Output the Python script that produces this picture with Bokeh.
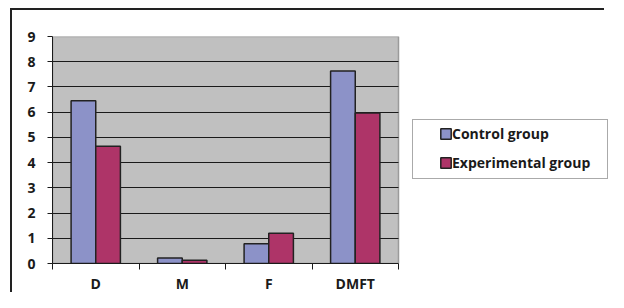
from bokeh.plotting import figure
from bokeh.models import (Range1d, FixedTicker, Legend, LegendItem, ColumnDataSource, CDSView, IndexFilter, Grid)
from bokeh.transform import dodge
from bokeh.embed import file_html
from bokeh.resources import INLINE

categories = ["D", "M", "F", "DMFT"]
control = [6.45, 0.22, 0.78, 7.63]
experimental = [4.65, 0.13, 1.2, 5.97]
series_names = ["Control group", "Experimental group"]
y_ticks = [0, 1, 2, 3, 4, 5, 6, 7, 8, 9]

FONT = "Open Sans"
FS = "14px"
C_CTRL = "#8C92C8"
C_EXP = "#AE3468"
C_AREA = "#C0C0C0"
INK = "#1a1a1a"

# layout (pixels): whole figure 608 x 292
PLOT_W, FRAME_W, FRAME_H = 346, 556, 227

n = len(categories)
xpos = [i + 0.5 for i in range(n)]
src = ColumnDataSource(dict(x=xpos, cat=categories, control=control, experimental=experimental))

frame_css = {
    "background-image": "linear-gradient(#222,#222), linear-gradient(#222,#222)",
    "background-size": "594px 2px, 2px 284px",
    "background-position": "10px 8px, 10px 8px",
    "background-repeat": "no-repeat, no-repeat",
}

p = figure(frame_width=FRAME_W, frame_height=FRAME_H, output_backend="svg", toolbar_location=None,
           x_range=Range1d(0, n * FRAME_W / PLOT_W), y_range=Range1d(0, y_ticks[-1]),
           min_border_left=52, min_border_right=0, min_border_top=36, min_border_bottom=29,
           styles=frame_css)
p.background_fill_color = None
p.border_fill_alpha = 0
p.outline_line_color = None

# gray plot area
p.quad(left=0, right=n, bottom=0, top=y_ticks[-1], fill_color=C_AREA,
       line_color="#9A9A9A", line_width=1.5, level="image")

bw = 0.285
r1 = p.vbar(x=dodge("x", -bw / 2), top="control", width=bw, source=src,
            fill_color=C_CTRL, line_color="#222222", line_width=1.5)
r2 = p.vbar(x=dodge("x", bw / 2), top="experimental", width=bw, source=src,
            fill_color=C_EXP, line_color="#222222", line_width=1.5)
hidden = CDSView(filter=IndexFilter(indices=[]))
r_blank = p.scatter(x="x", y="control", source=src, view=hidden, fill_alpha=0, line_alpha=0)

# grid
p.xgrid.visible = False
p.ygrid.ticker = FixedTicker(ticks=y_ticks[1:-1])
p.ygrid.grid_line_color = INK
p.ygrid.grid_line_width = 1
if "cross_bounds" in Grid.properties():
    p.ygrid.cross_bounds = (0, n)
else:
    p.ygrid.visible = False
    p.segment(x0=0, x1=n, y0=y_ticks[1:-1], y1=y_ticks[1:-1], line_color=INK, line_width=1)

# axes
p.yaxis.ticker = FixedTicker(ticks=y_ticks)
p.yaxis.axis_line_color = INK
p.yaxis.major_tick_line_color = INK
p.yaxis.major_tick_out = 5
p.yaxis.major_tick_in = 0
p.yaxis.minor_tick_line_color = None
p.yaxis.major_label_standoff = 12
p.yaxis.major_label_text_font = FONT
p.yaxis.major_label_text_font_style = "bold"
p.yaxis.major_label_text_font_size = FS
p.yaxis.major_label_text_color = INK

p.xaxis.bounds = (0, n)
p.xaxis.ticker = FixedTicker(ticks=xpos, minor_ticks=list(range(n + 1)))
p.xaxis.major_label_overrides = {x: c for x, c in zip(xpos, categories)}
p.xaxis.axis_line_color = INK
p.xaxis.major_tick_line_color = None
p.xaxis.major_tick_out = 0
p.xaxis.major_tick_in = 0
p.xaxis.minor_tick_line_color = INK
p.xaxis.minor_tick_out = 6
p.xaxis.minor_tick_in = 0
p.xaxis.major_label_standoff = 4
p.xaxis.major_label_text_font = FONT
p.xaxis.major_label_text_font_style = "bold"
p.xaxis.major_label_text_font_size = FS
p.xaxis.major_label_text_color = INK

# legend frame
box = Legend(items=[LegendItem(label=" ", renderers=[r_blank])],
             location=(360, 84), padding=0, margin=0,
             glyph_width=1, glyph_height=1, label_standoff=0,
             label_width=193, label_height=58,
             border_line_color="#555555", border_line_width=1,
             background_fill_color="white", background_fill_alpha=1,
             label_text_font_size="1px")
p.add_layout(box, "center")

legend = Legend(items=[LegendItem(label=series_names[0], renderers=[r1]),
                       LegendItem(label=series_names[1], renderers=[r2])],
                location=(387, 91), padding=0, margin=0, spacing=10,
                glyph_width=13, glyph_height=13, label_height=18, label_standoff=0,
                border_line_color=None, background_fill_alpha=0,
                label_text_font=FONT, label_text_font_style="bold",
                label_text_font_size=FS, label_text_color=INK)
p.add_layout(legend, "center")

open("out.html", "w").write(file_html(p, INLINE))
